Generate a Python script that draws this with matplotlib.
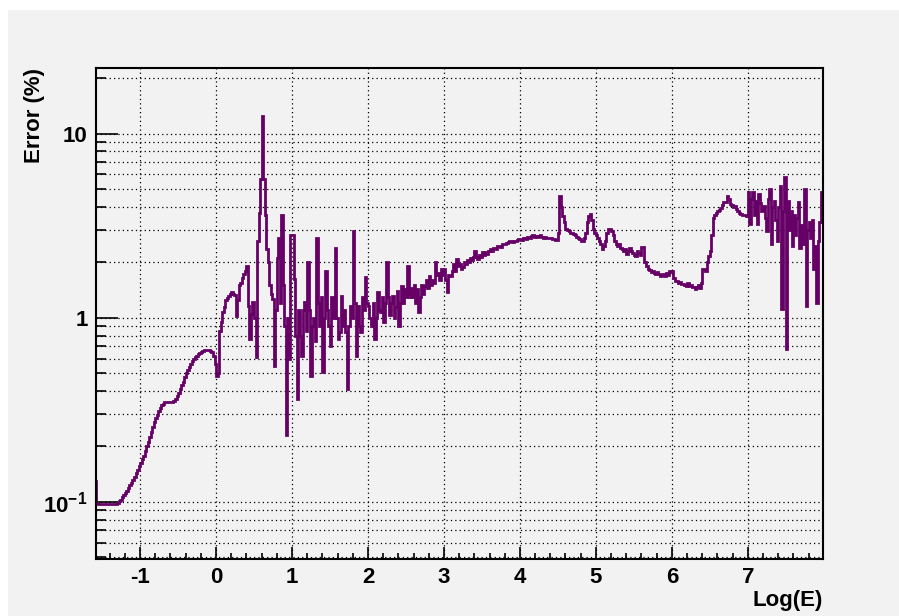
import numpy as np
import matplotlib
matplotlib.use("Agg")
import matplotlib.pyplot as plt
from matplotlib.patches import Rectangle
from matplotlib.ticker import LogLocator, MultipleLocator, FixedLocator, FuncFormatter

plt.rcParams['font.family'] = ['Liberation Sans', 'DejaVu Sans']
plt.rcParams['mathtext.fontset'] = 'custom'
plt.rcParams['mathtext.rm'] = 'Liberation Sans:bold'
plt.rcParams['mathtext.bf'] = 'Liberation Sans:bold'
plt.rcParams['axes.unicode_minus'] = False

# --- histogram contents (Error %), bin width 0.02 in Log(E), starting at -1.6 ---
bin_width = 0.02
x_start = -1.6

err_m16_m10 = [0.13, 0.099, 0.098, 0.097, 0.097, 0.097, 0.097, 0.097, 0.097, 0.097,
               0.097, 0.097, 0.097, 0.097, 0.098, 0.099, 0.101, 0.103, 0.106, 0.109,
               0.112, 0.115, 0.119, 0.123, 0.127, 0.132, 0.137, 0.143, 0.150, 0.156]
err_m10_00 = [0.162, 0.170, 0.178, 0.189, 0.200, 0.212, 0.225, 0.240, 0.255, 0.270,
              0.285, 0.298, 0.310, 0.323, 0.335, 0.342, 0.348, 0.350, 0.350, 0.350,
              0.350, 0.350, 0.352, 0.362, 0.375, 0.392, 0.41, 0.43, 0.45, 0.475,
              0.50, 0.52, 0.54, 0.56, 0.58, 0.595, 0.61, 0.622, 0.635, 0.645,
              0.655, 0.662, 0.668, 0.671, 0.672, 0.670, 0.664, 0.65, 0.62, 0.56]
err_00_10 = [0.48, 0.50, 0.85, 0.95, 1.08, 1.15, 1.25, 1.28, 1.32, 1.35,
             1.38, 1.35, 1.33, 1.02, 1.25, 1.50, 1.55, 1.65, 1.72, 1.80,
             1.92, 1.16, 0.77, 1.05, 1.22, 1.0, 0.61, 2.6, 3.7, 5.7,
             12.4, 5.7, 3.6, 2.37, 2.0, 1.5, 1.35, 1.27, 0.55, 1.1,
             2.1, 2.7, 1.2, 3.6, 1.5, 0.9, 0.23, 1.0, 0.6, 2.8]
err_10_20 = [2.8, 1.63, 0.8, 0.36, 1.1, 0.8, 0.62, 1.1, 1.22, 0.85,
             2.0, 1.1, 0.48, 0.9, 1.0, 0.75, 2.7, 1.2, 0.9, 1.3,
             0.51, 1.0, 1.8, 1.1, 0.9, 0.7, 1.3, 1.0, 2.4, 1.0,
             0.77, 0.84, 1.32, 0.9, 1.1, 0.84, 0.41, 0.9, 1.16, 1.0,
             2.97, 1.2, 0.62, 1.16, 0.9, 0.84, 1.3, 1.1, 1.67, 1.2]
err_20_30 = [1.16, 1.0, 0.9, 1.2, 0.77, 1.0, 1.38, 1.1, 1.07, 1.3,
             0.95, 1.2, 2.0, 1.3, 1.03, 1.2, 1.32, 1.0, 1.15, 1.4,
             0.9, 1.2, 1.49, 1.2, 1.43, 1.3, 1.92, 1.3, 1.45, 1.3,
             1.5, 1.2, 1.43, 1.07, 1.3, 1.5, 1.35, 1.49, 1.6, 1.45,
             1.69, 1.5, 1.6, 1.55, 2.0, 1.7, 1.75, 1.6, 1.85, 1.7]
err_30_40 = [1.85, 1.6, 1.38, 1.7, 1.69, 1.8, 1.95, 1.8, 2.09, 1.9,
             1.95, 1.85, 1.89, 2.0, 1.95, 2.05, 2.0, 2.1, 2.05, 2.15,
             2.3, 2.15, 2.09, 2.2, 2.15, 2.28, 2.2, 2.28, 2.22, 2.3,
             2.35, 2.3, 2.38, 2.4, 2.36, 2.44, 2.46, 2.42, 2.5, 2.52,
             2.5, 2.56, 2.58, 2.6, 2.62, 2.58, 2.62, 2.6, 2.65, 2.68]
err_40_50 = [2.69, 2.66, 2.72, 2.7, 2.68, 2.74, 2.72, 2.78, 2.8, 2.76,
             2.79, 2.73, 2.77, 2.8, 2.76, 2.72, 2.74, 2.72, 2.7, 2.72,
             2.7, 2.68, 2.67, 2.65, 2.64, 2.9, 4.6, 4.0, 3.58, 3.3,
             3.05, 3.0, 2.95, 2.9, 2.88, 2.85, 2.8, 2.76, 2.72, 2.68,
             2.62, 2.62, 2.7, 2.9, 3.33, 3.55, 3.68, 3.4, 3.05, 2.9]
err_50_60 = [2.8, 2.7, 2.6, 2.5, 2.37, 2.45, 2.6, 2.9, 3.05, 3.05,
             2.95, 2.8, 2.6, 2.5, 2.46, 2.5, 2.4, 2.35, 2.3, 2.35,
             2.23, 2.3, 2.4, 2.3, 2.25, 2.2, 2.17, 2.3, 2.25, 2.2,
             2.43, 2.43, 2.0, 1.92, 1.85, 1.82, 1.78, 1.8, 1.75, 1.73,
             1.78, 1.72, 1.69, 1.7, 1.72, 1.68, 1.74, 1.7, 1.8, 1.78]
err_60_70 = [1.8, 1.65, 1.59, 1.58, 1.55, 1.56, 1.53, 1.52, 1.5, 1.49,
             1.55, 1.48, 1.5, 1.46, 1.47, 1.44, 1.47, 1.5, 1.45, 1.55,
             1.85, 1.85, 1.8, 2.0, 2.17, 2.3, 2.8, 3.5, 3.6, 3.7,
             3.8, 3.85, 3.95, 4.1, 4.27, 4.25, 4.6, 4.4, 4.17, 4.1,
             4.0, 4.05, 3.9, 3.8, 3.7, 3.68, 3.62, 3.6, 3.62, 3.58]
err_70_80 = [4.83, 3.24, 4.4, 4.83, 3.6, 4.3, 3.24, 4.7, 4.2, 3.8,
             4.05, 3.5, 2.97, 4.4, 5.0, 2.52, 4.0, 4.3, 3.4, 2.6,
             4.0, 5.2, 1.12, 3.8, 5.8, 0.68, 4.3, 3.0, 3.8, 2.46,
             3.6, 2.8, 3.5, 4.27, 2.4, 3.2, 2.5, 5.0, 1.16, 3.0,
             3.3, 2.7, 3.4, 1.85, 2.46, 1.2, 2.6, 3.3, 4.8, 4.5]

errors = np.array(err_m16_m10 + err_m10_00 + err_00_10 + err_10_20 + err_20_30
                  + err_30_40 + err_40_50 + err_50_60 + err_60_70 + err_70_80)
edges = x_start + bin_width * np.arange(len(errors) + 1)

W, H = 899, 616
fig = plt.figure(figsize=(W / 100, H / 100), dpi=100, facecolor='white')
fig.patches.append(Rectangle((8 / W, 0), 1 - 8 / W, 1 - 10 / H,
                             transform=fig.transFigure, facecolor='#f2f2f2',
                             edgecolor='none', zorder=-10))

ax = fig.add_axes([96 / W, (H - 559) / H, (823 - 96) / W, (559 - 68) / H])
ax.set_facecolor('#f2f2f2')

ax.stairs(errors, edges, color='#660066', linewidth=2.0, baseline=None)

ax.set_yscale('log')
ax.set_xlim(-1.58, 7.99)
ax.set_ylim(0.049, 22.7)

# ticks, ROOT style (inside, left/bottom only)
ax.xaxis.set_major_locator(MultipleLocator(1))
ax.xaxis.set_minor_locator(MultipleLocator(0.2))
ax.yaxis.set_major_locator(FixedLocator([0.1, 1, 10]))
ax.yaxis.set_minor_locator(LogLocator(base=10, subs=np.arange(2, 10), numticks=20))


def ylab(v, pos):
    if v == 10:
        return '10'
    if v == 1:
        return '1'
    return r'$\mathbf{10^{-1}}$'


ax.yaxis.set_major_formatter(FuncFormatter(ylab))
ax.yaxis.set_minor_formatter(FuncFormatter(lambda v, p: ''))

ax.tick_params(axis='both', which='both', direction='in', top=False, right=False,
               color='black', width=1.2)
ax.tick_params(axis='y', which='major', length=16, pad=6, labelsize=16)
ax.tick_params(axis='y', which='minor', length=7.5)
ax.tick_params(axis='x', which='major', length=9, pad=6, labelsize=16)
ax.tick_params(axis='x', which='minor', length=4.5)
for lab in ax.get_xticklabels() + ax.get_yticklabels():
    lab.set_fontweight('bold')

ax.grid(True, which='major', axis='x', color='black', linestyle=(0, (1, 2.5)), linewidth=0.9)
ax.grid(True, which='both', axis='y', color='black', linestyle=(0, (1, 2.5)), linewidth=0.9)
ax.set_axisbelow(True)

for s in ax.spines.values():
    s.set_color('black')
    s.set_linewidth(1.5)

ax.set_ylabel('Error (%)', fontsize=16, fontweight='bold', loc='top')
ax.yaxis.set_label_coords(-0.070, 1.0)
ax.set_xlabel('Log(E)', fontsize=16, fontweight='bold', loc='right', labelpad=1)

fig.savefig('out.png', dpi=100, facecolor=fig.get_facecolor())
